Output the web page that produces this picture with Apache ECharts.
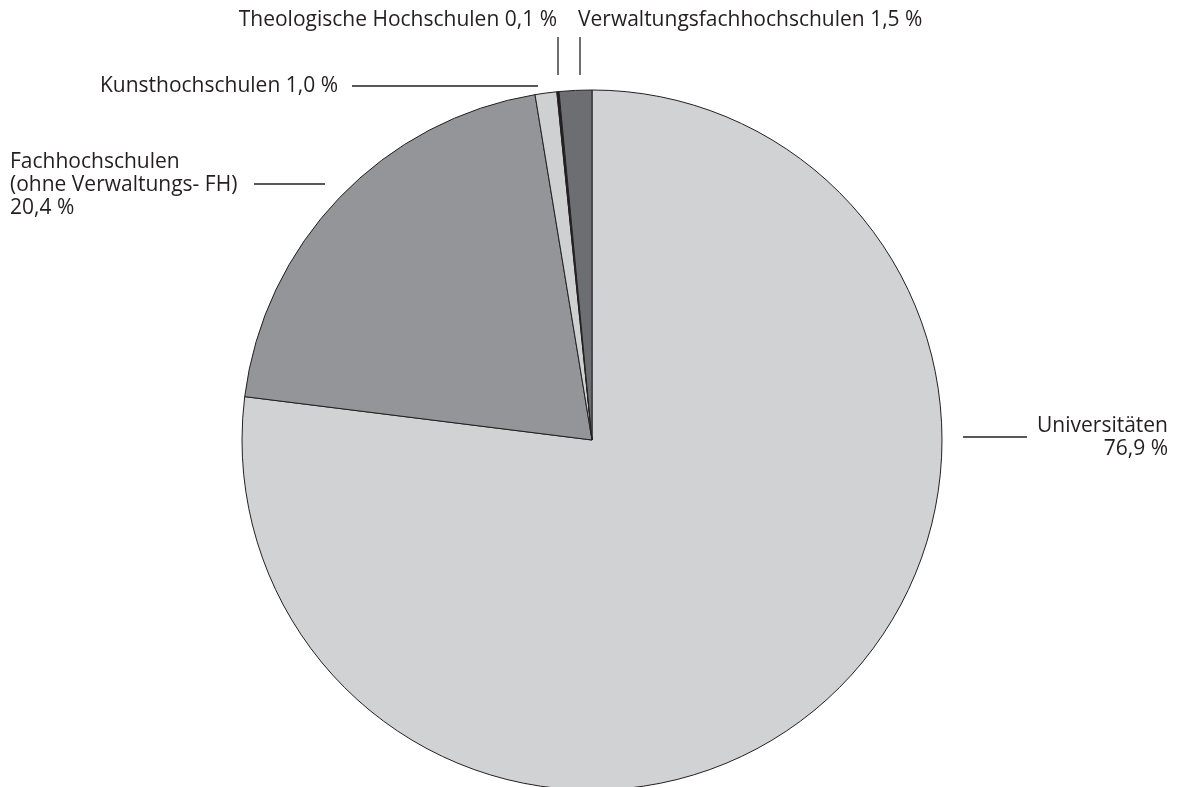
<!DOCTYPE html>
<html>
<head>
<meta charset="utf-8">
<script src="https://cdn.jsdelivr.net/npm/echarts@6/dist/echarts.min.js"></script>
<style>
  html, body { margin: 0; padding: 0; background: #fff; }
  #chart { width: 1182px; height: 787px; }
</style>
</head>
<body>
<div id="chart"></div>
<script>
const categories = [
  "Universitäten",
  "Fachhochschulen\n(ohne Verwaltungs- FH)",
  "Kunsthochschulen",
  "Theologische Hochschulen",
  "Verwaltungsfachhochschulen"
];
const shares = [76.9, 20.4, 1.0, 0.1, 1.5];
const colors = ["#d1d2d4", "#939598", "#cfd0d2", "#231f20", "#6d6e71"];

// label anchor per slice: [x, y, align]
const labelPos = [
  [1168, 438, "right"],
  [10, 185, "left"],
  [338, 86, "right"],
  [557, 20, "right"],
  [578, 20, "left"]
];

const chart = echarts.init(document.getElementById("chart"));

function fmt(v) {
  return v.toFixed(1).replace(".", ",") + " %";
}

const option = {
  animation: false,
  textStyle: { fontFamily: "Open Sans" },
  series: [
    {
      type: "pie",
      center: [592, 440],
      radius: 350,
      startAngle: 90,
      clockwise: true,
      avoidLabelOverlap: false,
      itemStyle: { borderColor: "#231f20", borderWidth: 1 },
      label: {
        show: true,
        color: "#231f20",
        fontFamily: "Open Sans",
        fontSize: 21,
        lineHeight: 23,
        formatter: (p) => {
          if (p.dataIndex <= 1) return p.name + "\n" + fmt(p.value);
          return p.name + " " + fmt(p.value);
        }
      },
      labelLine: { show: false },
      labelLayout: (p) => {
        const pos = labelPos[p.dataIndex];
        return { x: pos[0], y: pos[1], align: pos[2], verticalAlign: "middle" };
      },
      emphasis: { disabled: true },
      data: categories.map((c, i) => ({
        name: c,
        value: shares[i],
        itemStyle: { color: colors[i] }
      }))
    }
  ],
  graphic: [
    { type: "line", shape: { x1: 963, y1: 437, x2: 1027, y2: 437 }, style: { stroke: "#231f20", lineWidth: 1.3 } },
    { type: "line", shape: { x1: 254, y1: 184, x2: 325, y2: 184 }, style: { stroke: "#231f20", lineWidth: 1.3 } },
    { type: "line", shape: { x1: 352, y1: 86, x2: 538, y2: 86 }, style: { stroke: "#231f20", lineWidth: 1.3 } },
    { type: "line", shape: { x1: 558, y1: 37, x2: 558, y2: 75 }, style: { stroke: "#231f20", lineWidth: 1.3 } },
    { type: "line", shape: { x1: 580, y1: 37, x2: 580, y2: 75 }, style: { stroke: "#231f20", lineWidth: 1.3 } }
  ]
};

chart.setOption(option);
</script>
</body>
</html>
